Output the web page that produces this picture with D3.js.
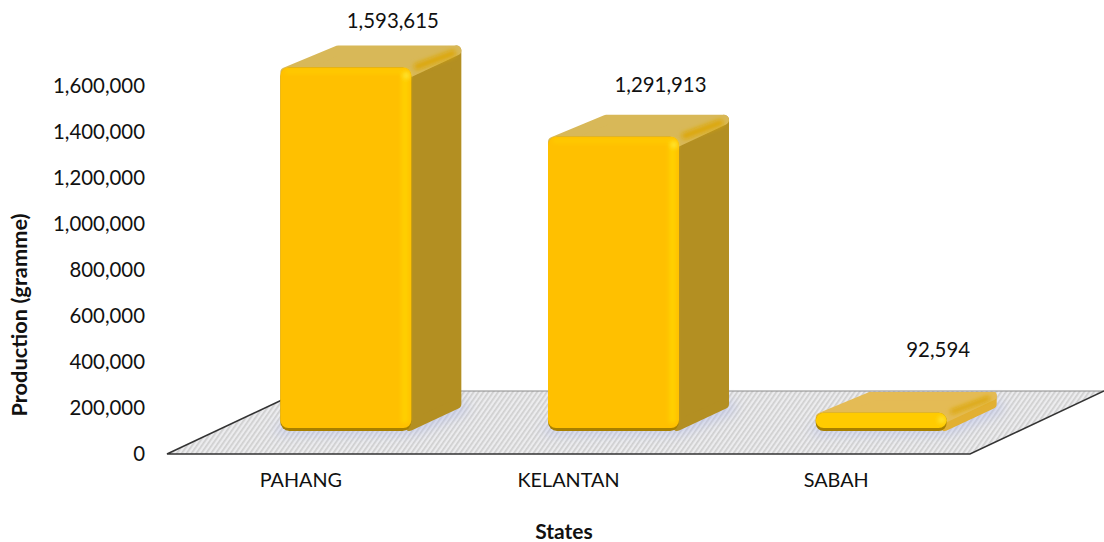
<!DOCTYPE html>
<html>
<head>
<meta charset="utf-8">
<script src="https://cdn.jsdelivr.net/npm/d3@7"></script>
<style>
    body { margin: 0; background: #fff; }
    text { font-family: Lato, sans-serif; fill: #111; }
</style>
</head>
<body>
<svg id="chart" width="1104" height="542"></svg>
<script>
const states = ["PAHANG", "KELANTAN", "SABAH"];
const production = [1593615, 1291913, 92594];
const yTicks = [0, 200000, 400000, 600000, 800000, 1000000, 1200000, 1400000, 1600000];

const svg = d3.select("#chart");
const defs = svg.append("defs");

const xScale = d3.scaleBand().domain(states).range([167, 970]);
const yScale = d3.scaleLinear().domain([0, 1600000]).range([454, 86]);

// floor depth, and how far the bars stand back from the front edge
const floorDx = 134, floorDy = -63;
const barShiftX = 45, barShiftY = -23;
const barTopInset = 3;
const barWidth = 131;
const depthX = 50, depthY = -22;
// hand placed data labels, as in the original
const labelLift = [67, 72, 83];
const labelNudge = [0, 0, 10];

// grey hatching of the floor
const hatch = defs.append("pattern")
    .attr("id", "hatch")
    .attr("width", 4).attr("height", 4)
    .attr("patternUnits", "userSpaceOnUse")
    .attr("patternTransform", "rotate(-55)");
hatch.append("rect").attr("width", 4).attr("height", 4).attr("fill", "#ececee");
hatch.append("rect").attr("width", 4).attr("height", 1.7).attr("fill", "#cfcfcf");

const soft = defs.append("filter").attr("id", "soft")
    .attr("x", "-10%").attr("y", "-10%").attr("width", "120%").attr("height", "120%");
soft.append("feGaussianBlur").attr("stdDeviation", 0.7);

const bevel = defs.append("filter").attr("id", "bevel")
    .attr("x", "-60%").attr("y", "-60%").attr("width", "220%").attr("height", "220%");
bevel.append("feGaussianBlur").attr("stdDeviation", 2);

const shadow = defs.append("filter").attr("id", "shadow")
    .attr("x", "-20%").attr("y", "-40%").attr("width", "140%").attr("height", "180%");
shadow.append("feGaussianBlur").attr("stdDeviation", 6);

const line = d3.line().curve(d3.curveLinearClosed);

// floor
const x0 = xScale.range()[0], x1 = xScale.range()[1], y0 = yScale(0);
svg.append("path")
    .attr("d", line([[x0, y0], [x1, y0], [x1 + floorDx, y0 + floorDy], [x0 + floorDx, y0 + floorDy]]))
    .attr("fill", "url(#hatch)");
svg.append("path")
    .attr("d", d3.line()([[x0 + floorDx, y0 + floorDy], [x1 + floorDx, y0 + floorDy]]))
    .attr("fill", "none").attr("stroke", "#8a8a8a").attr("stroke-width", 1.2);
svg.append("path")
    .attr("d", d3.line()([[x0 + floorDx, y0 + floorDy], [x0, y0], [x1, y0], [x1 + floorDx, y0 + floorDy]]))
    .attr("fill", "none").attr("stroke", "#333").attr("stroke-width", 1.5);

// bars
states.forEach((state, i) => {
    const left = xScale(state) + xScale.bandwidth() / 2 + barShiftX - barWidth / 2;
    const right = left + barWidth;
    const bottom = yScale(0) + barShiftY;
    const top = yScale(production[i]) + barShiftY + barTopInset;
    const r = 5;
    const tall = bottom - top > 40;
    const g = svg.append("g");

    // soft shadow on the floor
    g.append("path")
        .attr("d", line([[left - 4, bottom + 3], [right + 4, bottom + 3],
            [right + depthX + 6, bottom + depthY + 3], [right + depthX + 6, bottom + depthY - 8], [left - 4, bottom - 6]]))
        .attr("fill", "#b4bce8").attr("opacity", 0.55).attr("filter", "url(#shadow)");

    const parts = g.append("g").attr("filter", "url(#soft)");

    // side face
    const sideColor = tall ? "#b38f22" : "#e2b030";
    parts.append("path")
        .attr("d", line([[right - 2, top + r], [right + depthX - r, top + depthY + r],
            [right + depthX - r, bottom + depthY - r], [right - 2, bottom - r]]))
        .attr("fill", sideColor).attr("stroke", sideColor)
        .attr("stroke-width", 2 * r).attr("stroke-linejoin", "round");

    // top face
    const topColor = tall ? "#d8b858" : "#e4bb55";
    parts.append("path")
        .attr("d", line([[left + r, top + r], [left + depthX + 8, top + depthY + r],
            [right + depthX - r, top + depthY + r], [right - 2, top + r]]))
        .attr("fill", topColor).attr("stroke", topColor)
        .attr("stroke-width", 2 * r).attr("stroke-linejoin", "round");

    // golden rim along the right of the top face, blurred into both faces
    g.append("path")
        .attr("d", d3.line()([[right + 6, top - 1], [right + depthX - 9, top + depthY + 8]]))
        .attr("fill", "none").attr("stroke", "#dca80c").attr("stroke-width", tall ? 7 : 5)
        .attr("stroke-linecap", "round").attr("filter", "url(#bevel)");

    // front face, dark bottom edge first
    parts.append("rect")
        .attr("x", left).attr("y", top)
        .attr("width", barWidth).attr("height", bottom - top)
        .attr("rx", tall ? 9 : 8).attr("fill", "#a88000");
    parts.append("rect")
        .attr("x", left).attr("y", top)
        .attr("width", barWidth).attr("height", bottom - top - 3)
        .attr("rx", 8).attr("fill", tall ? "#ffc000" : "#ffcb00");

    // highlight strip on the right edge and on top
    if (tall) {
        g.append("rect")
            .attr("x", right - 10).attr("y", top + 4)
            .attr("width", 7).attr("height", bottom - top - 12)
            .attr("fill", "#ffd000").attr("filter", "url(#bevel)");
        g.append("rect")
            .attr("x", left + 5).attr("y", top + 2)
            .attr("width", barWidth - 10).attr("height", 4)
            .attr("fill", "#ffcc00").attr("filter", "url(#bevel)");
    }
    g.append("circle")
        .attr("cx", right - 5).attr("cy", top + (tall ? 8 : 7))
        .attr("r", 3.5).attr("fill", "#ffe430").attr("filter", "url(#bevel)");

    // value label
    svg.append("text")
        .attr("x", xScale(state) + xScale.bandwidth() / 2 + 2 * barShiftX + 2 + labelNudge[i])
        .attr("y", yScale(production[i]) - labelLift[i])
        .attr("dy", "0.35em")
        .attr("text-anchor", "middle")
        .style("font-size", "20.4px")
        .text(d3.format(",")(production[i]));
});

// axes
const yAxis = d3.axisLeft(yScale).tickValues(yTicks).tickSize(0).tickPadding(0).tickFormat(d3.format(","));
const yG = svg.append("g").attr("transform", "translate(145,0)").call(yAxis);
yG.select(".domain").remove();
yG.selectAll("text").style("font-size", "20.4px").style("font-family", "Lato, sans-serif").attr("fill", "#111");

const xAxis = d3.axisBottom(xScale).tickSize(0).tickPadding(0);
const xG = svg.append("g").attr("transform", "translate(0,473)").call(xAxis);
xG.select(".domain").remove();
xG.selectAll("text").style("font-size", "19.8px").style("font-family", "Lato, sans-serif").attr("fill", "#111");

// axis titles
svg.append("text")
    .attr("x", 564).attr("y", 539)
    .attr("text-anchor", "middle")
    .style("font-size", "21px").style("font-weight", "bold")
    .text("States");
svg.append("text")
    .attr("transform", "translate(27,315) rotate(-90)")
    .attr("text-anchor", "middle")
    .style("font-size", "21.8px").style("font-weight", "bold")
    .text("Production (gramme)");
</script>
</body>
</html>
